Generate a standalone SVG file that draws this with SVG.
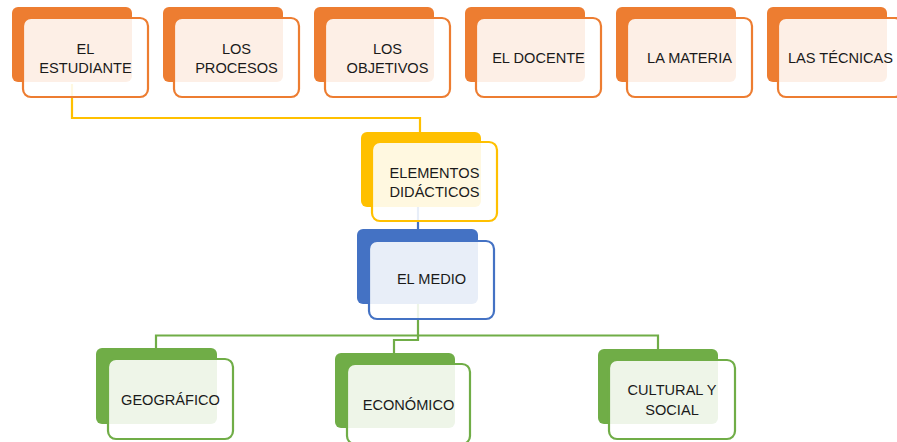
<svg xmlns="http://www.w3.org/2000/svg" width="897" height="442" viewBox="0 0 897 442">
<style>
.t{font-family:"Liberation Sans",Arial,sans-serif;font-size:14.6px;fill:#1a1a1a;text-anchor:middle}
.bo{fill:#ED7D31}.fo{fill:#fff;fill-opacity:.88;stroke:#ED7D31;stroke-width:2.2}
.by{fill:#FFC000}.fy{fill:#fff;fill-opacity:.88;stroke:#FFC000;stroke-width:2.2}
.bb{fill:#4472C4}.fb{fill:#fff;fill-opacity:.88;stroke:#4472C4;stroke-width:2.2}
.bg{fill:#70AD47}.fg{fill:#fff;fill-opacity:.88;stroke:#70AD47;stroke-width:2.2}
.c{fill:none;stroke-width:2.2}
</style>
<rect width="897" height="442" fill="#fff"/>
<g id="connectors">
<polyline class="c" stroke="#FFC000" points="72,84 72,118 420,118 420,133"/>
<line class="c" stroke="#4472C4" x1="418" y1="207" x2="418" y2="230"/>
<polyline class="c" stroke="#70AD47" points="418,304 418,340 394,340 394,354"/>
<polyline class="c" stroke="#70AD47" points="156,349 156,335.5 658,335.5 658,349"/>
</g>
<g id="n1"><rect class="bo" x="12" y="7" width="120" height="75" rx="6"/><rect class="fo" x="23" y="18" width="125" height="79" rx="8"/><text class="t" x="85.5" y="54">EL</text><text class="t" x="85.5" y="73">ESTUDIANTE</text></g>
<g id="n2"><rect class="bo" x="163" y="7" width="120" height="75" rx="6"/><rect class="fo" x="174" y="18" width="125" height="79" rx="8"/><text class="t" x="236.5" y="54">LOS</text><text class="t" x="236.5" y="73">PROCESOS</text></g>
<g id="n3"><rect class="bo" x="314" y="7" width="120" height="75" rx="6"/><rect class="fo" x="325" y="18" width="125" height="79" rx="8"/><text class="t" x="387.5" y="54">LOS</text><text class="t" x="387.5" y="73">OBJETIVOS</text></g>
<g id="n4"><rect class="bo" x="465" y="7" width="120" height="75" rx="6"/><rect class="fo" x="476" y="18" width="125" height="79" rx="8"/><text class="t" x="538.5" y="63">EL DOCENTE</text></g>
<g id="n5"><rect class="bo" x="616" y="7" width="120" height="75" rx="6"/><rect class="fo" x="627" y="18" width="125" height="79" rx="8"/><text class="t" x="689.5" y="63">LA MATERIA</text></g>
<g id="n6"><rect class="bo" x="767" y="7" width="120" height="75" rx="6"/><rect class="fo" x="778" y="18" width="125" height="79" rx="8"/><text class="t" x="840.5" y="63">LAS TÉCNICAS</text></g>
<g id="n7"><rect class="by" x="361" y="132" width="120" height="75" rx="6"/><rect class="fy" x="372" y="142" width="125" height="79" rx="8"/><text class="t" x="434.5" y="178">ELEMENTOS</text><text class="t" x="434.5" y="197">DIDÁCTICOS</text></g>
<g id="n8"><rect class="bb" x="357" y="229" width="121" height="75" rx="6"/><rect class="fb" x="369" y="241" width="125" height="78" rx="8"/><text class="t" x="431.5" y="284">EL MEDIO</text></g>
<g id="n9"><rect class="bg" x="96" y="348" width="121" height="76" rx="6"/><rect class="fg" x="108" y="359" width="125" height="80" rx="8"/><text class="t" x="170.5" y="405">GEOGRÁFICO</text></g>
<g id="n10"><rect class="bg" x="335" y="353" width="120" height="75" rx="6"/><rect class="fg" x="347" y="364" width="123" height="80" rx="8"/><text class="t" x="408.5" y="410">ECONÓMICO</text></g>
<g id="n11"><rect class="bg" x="598" y="349" width="120" height="75" rx="6"/><rect class="fg" x="609" y="360" width="126" height="79" rx="8"/><text class="t" x="672" y="395">CULTURAL Y</text><text class="t" x="672" y="415">SOCIAL</text></g>
</svg>
